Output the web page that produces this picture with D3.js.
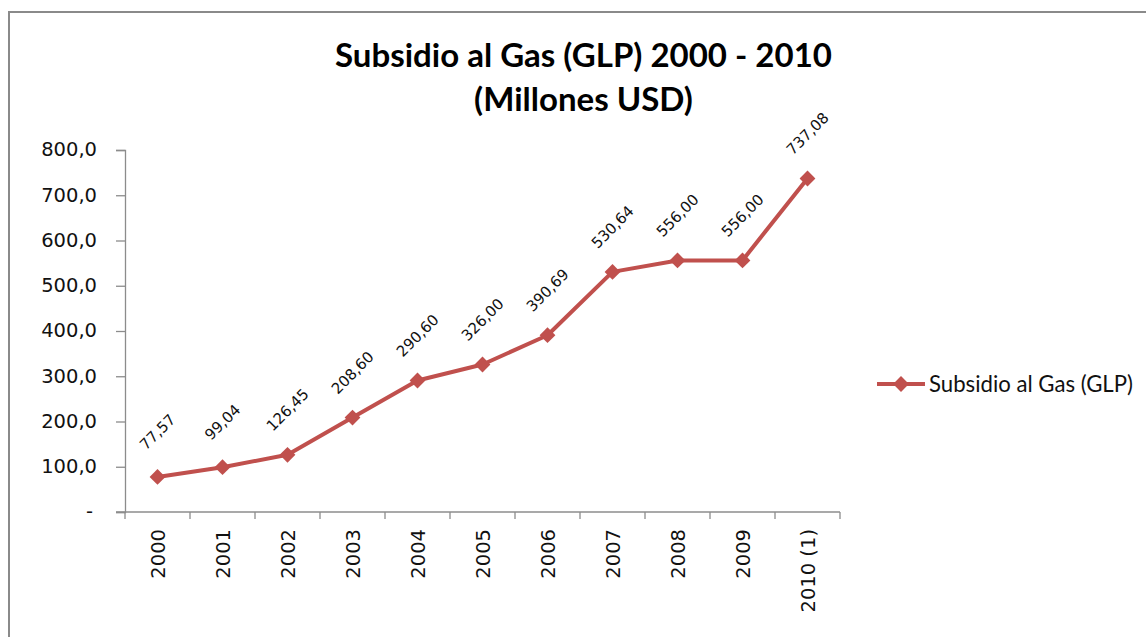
<!DOCTYPE html>
<html>
<head>
<meta charset="utf-8">
<script src="https://cdn.jsdelivr.net/npm/d3@7"></script>
<style>
  html, body { margin: 0; padding: 0; background: #fff; }
  svg { display: block; }
</style>
</head>
<body>
<svg id="chart" width="1146" height="637"></svg>
<script>
// Subsidio al Gas (GLP), millones de USD
const years = ["2000", "2001", "2002", "2003", "2004", "2005", "2006", "2007", "2008", "2009", "2010 (1)"];
const subsidy = [77.57, 99.04, 126.45, 208.60, 290.60, 326.00, 390.69, 530.64, 556.00, 556.00, 737.08];
const yTicks = [0, 100, 200, 300, 400, 500, 600, 700, 800];
const seriesName = "Subsidio al Gas (GLP)";
const titleLines = ["Subsidio al Gas (GLP) 2000 - 2010", "(Millones USD)"];

const svg = d3.select("#chart");
const red = "#c0504d";
const axisGray = "#8c8c8c";
const numFont = "'DejaVu Sans', Verdana, sans-serif";
const textFont = "Lato, 'Open Sans', sans-serif";

// outer frame
svg.append("rect")
  .attr("x", 9).attr("y", 12)
  .attr("width", 1160).attr("height", 660)
  .attr("fill", "#fff")
  .attr("stroke", "#8a8a8a").attr("stroke-width", 2);

// shrink/grow a text node's font size so it spans a given width
function fitWidth(sel, target) {
  const node = sel.node();
  const fs = parseFloat(sel.attr("font-size"));
  const w = node.getComputedTextLength();
  sel.attr("font-size", (fs * target / w).toFixed(2));
}

// title
const tl1 = svg.append("text")
  .attr("x", 583.5).attr("y", 67)
  .attr("text-anchor", "middle")
  .attr("font-family", textFont).attr("font-weight", "bold")
  .attr("font-size", 30).attr("fill", "#000")
  .text(titleLines[0]);
fitWidth(tl1, 497);
svg.append("text")
  .attr("x", 583.5).attr("y", 111)
  .attr("text-anchor", "middle")
  .attr("font-family", textFont).attr("font-weight", "bold")
  .attr("font-size", tl1.attr("font-size")).attr("fill", "#000")
  .text(titleLines[1]);

// plot area
const plot = { left: 125, right: 840, top: 150, bottom: 512 };

const x = d3.scaleBand()
  .domain(years)
  .range([plot.left, plot.right])
  .paddingInner(0).paddingOuter(0);

const y = d3.scaleLinear()
  .domain([0, 800])
  .range([plot.bottom, plot.top]);

// y axis
const yAxis = svg.append("g")
  .attr("transform", `translate(${plot.left},0)`)
  .call(d3.axisLeft(y)
    .tickValues(yTicks)
    .tickSize(9)
    .tickPadding(19)
    .tickFormat(d => d === 0 ? "-" : d3.format(".1f")(d).replace(".", ",")));
yAxis.select(".domain").attr("stroke", axisGray).attr("stroke-width", 1.3);
yAxis.selectAll(".tick line").attr("stroke", axisGray).attr("stroke-width", 1.3);
yAxis.selectAll(".tick text")
  .attr("font-family", numFont).attr("font-size", 19.5).attr("fill", "#111")
  .attr("dy", "0.3em");
yAxis.selectAll(".tick").filter(d => d === 0).select("text").attr("dx", -4);

// x axis with ticks on category boundaries
const xAxis = svg.append("g")
  .attr("transform", `translate(0,${plot.bottom})`);
xAxis.append("line")
  .attr("x1", plot.left - 9).attr("x2", plot.right)
  .attr("stroke", axisGray).attr("stroke-width", 1.3);
const boundaries = years.map(d => x(d)).concat([x(years[years.length - 1]) + x.bandwidth()]);
xAxis.selectAll(".xb")
  .data(boundaries)
  .join("line")
  .attr("class", "xb")
  .attr("x1", d => d).attr("x2", d => d)
  .attr("y1", 0).attr("y2", 7)
  .attr("stroke", axisGray).attr("stroke-width", 1.3);
xAxis.selectAll(".xl")
  .data(years)
  .join("text")
  .attr("class", "xl")
  .attr("transform", d => `translate(${x(d) + x.bandwidth() / 2},17) rotate(-90)`)
  .attr("text-anchor", "end")
  .attr("dy", "0.36em")
  .attr("font-family", numFont).attr("font-size", 19.5).attr("fill", "#111")
  .text(d => d);

// series line
const cx = d => x(d) + x.bandwidth() / 2;
const pts = years.map((d, i) => [cx(d), y(subsidy[i])]);

svg.append("path")
  .datum(pts)
  .attr("d", d3.line())
  .attr("fill", "none")
  .attr("stroke", red).attr("stroke-width", 4)
  .attr("stroke-linejoin", "round");

// diamond markers (square turned 45°)
const marker = d3.symbol().type(d3.symbolSquare).size(125);
svg.selectAll(".mk")
  .data(pts)
  .join("path")
  .attr("class", "mk")
  .attr("transform", d => `translate(${d[0]},${d[1]}) rotate(45)`)
  .attr("d", marker)
  .attr("fill", red);

// value labels
svg.selectAll(".vl")
  .data(years)
  .join("text")
  .attr("class", "vl")
  .attr("transform", (d, i) => `translate(${cx(d)},${y(subsidy[i]) - 45}) rotate(-45)`)
  .attr("text-anchor", "middle")
  .attr("dy", "0.35em")
  .attr("font-family", numFont).attr("font-size", 15).attr("fill", "#111")
  .text((d, i) => d3.format(".2f")(subsidy[i]).replace(".", ","));

// legend
const lg = svg.append("g").attr("transform", "translate(877,384)");
lg.append("line")
  .attr("x1", 0).attr("x2", 48)
  .attr("stroke", red).attr("stroke-width", 4);
lg.append("path")
  .attr("transform", "translate(24,0) rotate(45)")
  .attr("d", marker)
  .attr("fill", red);
const lt = lg.append("text")
  .attr("x", 52).attr("y", 0)
  .attr("dy", "0.35em")
  .attr("font-family", textFont).attr("font-size", 18).attr("fill", "#111")
  .text(seriesName);
fitWidth(lt, 204);
</script>
</body>
</html>
